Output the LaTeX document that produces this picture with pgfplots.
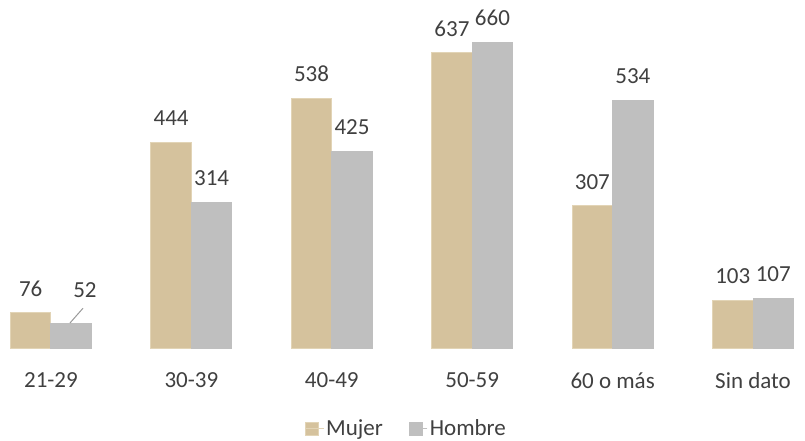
\documentclass[border=0pt]{standalone}
\usepackage{pgfplots}
\pgfplotsset{compat=1.18}
\usepackage{fontspec}
\setmainfont{Carlito}

\definecolor{mujer}{HTML}{D5C29D}
\definecolor{mujerborde}{HTML}{E2D4B6}
\definecolor{hombre}{HTML}{BFBFBF}
\definecolor{texto}{HTML}{404040}

\begin{document}
\begin{tikzpicture}[font=\fontsize{23bp}{27bp}\selectfont]
\begin{axis}[
    scale only axis,
    width=805bp, height=348bp,
    xmin=-0.363, xmax=5.370,
    ymin=0, ymax=750.6,
    ybar=0pt, bar width=0.2885,
    axis line style={draw=none},
    major tick length=0pt,
    ymajorticks=false,
    xtick={0,...,5},
    xticklabels={21-29,30-39,40-49,50-59,60 o más,Sin dato},
    xticklabel style={text=texto, yshift=-21bp},
    point meta=explicit symbolic,
    nodes near coords={\pgfplotspointmeta},
    every node near coord/.append style={text=texto, anchor=south, inner sep=0pt, yshift=16bp},
    legend columns=2,
    legend style={draw=none, at={(0.5,0)}, anchor=center, yshift=-80bp, xshift=4bp,
        text=texto, /tikz/every even column/.append style={column sep=24bp}},
    legend image code/.code={\fill[#1] (0bp,-7bp) rectangle (13bp,6bp); \path (0bp,0bp) -- (18bp,0bp);},
]
\addplot[fill=mujer, draw=mujerborde, line width=1bp] coordinates {
    (0,76)[76] (1,444)[444] (2,538)[538] (3,637)[637] (4,307)[307] (5,103)[103]
};
\addplot[fill=hombre, draw=hombre, line width=1bp] coordinates {
    (0,52)[] (1,314)[314] (2,425)[425] (3,660)[660] (4,534)[534] (5,107)[107]
};
\legend{Mujer, Hombre}
\draw[color=hombre!80!black, line width=1bp] (axis cs:0.135,54) -- (axis cs:0.228,86);
\node[text=texto, anchor=center] at (axis cs:0.242,125) {52};
\end{axis}
\end{tikzpicture}
\end{document}
